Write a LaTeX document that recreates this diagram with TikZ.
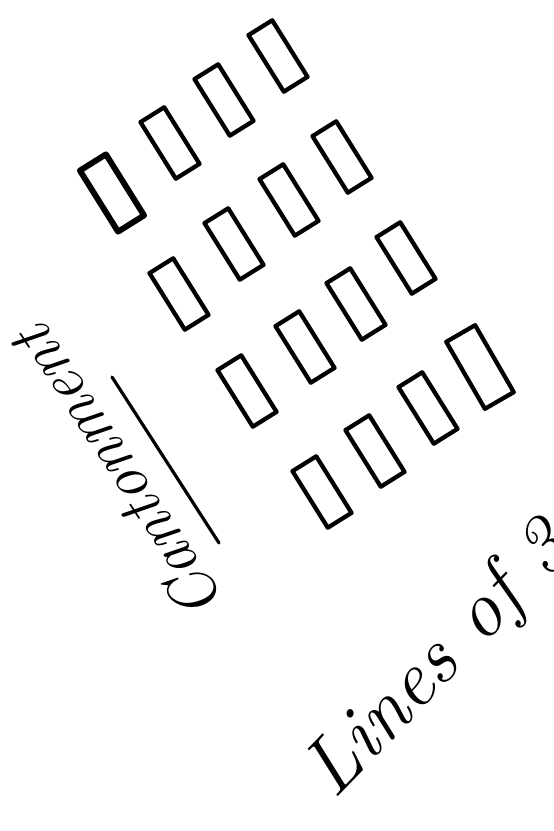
\documentclass[tikz,border=0pt]{standalone}
\begin{document}
\begin{tikzpicture}[x=0.75pt,y=-0.75pt,
  box/.style={draw=black, line width=3.2pt, minimum width=50pt, minimum height=21pt,
              inner sep=0pt, outer sep=0pt, rotate=-58, line join=round},
  bigbox/.style={box, line width=4.4pt, minimum width=54pt, minimum height=23pt},
  hand/.style={font=\itshape, inner sep=0pt}]
\useasboundingbox (0,0) rectangle (553,831);
% row 1
\node[bigbox] (r1) at (112,193) {};
\node[box] (r2) at (170,143) {};
\node[box] (r3) at (224,100) {};
\node[box] (r4) at (278,56) {};
% row 2
\node[box] (r5) at (179,294) {};
\node[box] (r6) at (234,244) {};
\node[box] (r7) at (289,200) {};
\node[box] (r8) at (342,157) {};
% row 3
\node[box] (r9) at (247,391) {};
\node[box] (r10) at (305,347) {};
\node[box] (r11) at (356,304) {};
\node[box] (r12) at (406,258) {};
% row 4
\node[box] (r13) at (322,492) {};
\node[box] (r14) at (375,451) {};
\node[box] (r15) at (428,408) {};
\node[box, minimum width=58pt, minimum height=25pt, rotate=-2] (r16) at (480,367) {};
% label and underline
\node[hand, rotate=123, font=\fontsize{48}{54}\selectfont\itshape] (cant) at (117,474) {Cantonment};
\coordinate (u1) at (112,377);
\coordinate (u2) at (219,543);
\draw[line width=2.4pt, line cap=round] (u1) -- (u2);
% lines of 3
\node[hand, rotate=46, font=\fontsize{60}{66}\selectfont\itshape] (lines) at (440,662) {Lines of 3};
\end{tikzpicture}
\end{document}
